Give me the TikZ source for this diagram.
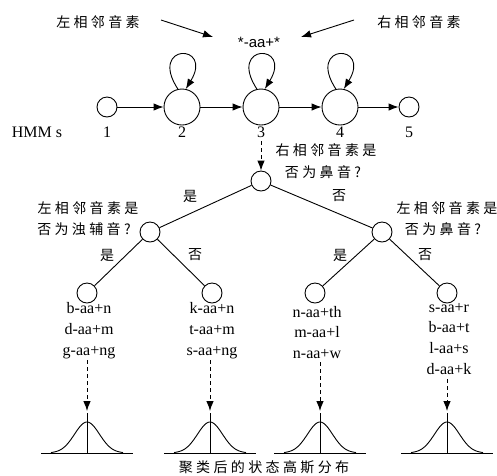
\documentclass[tikz,border=0pt]{standalone}
\usepackage{fontspec}
\setmainfont{Liberation Serif}
\newfontfamily\cjk[LetterSpace=24]{Noto Sans CJK SC}
\newfontfamily\arialfont{Liberation Sans}
\usetikzlibrary{arrows.meta}

\begin{document}
\begin{tikzpicture}[x=1pt, y=-1pt, line width=0.9pt,
  big/.style={circle, draw, minimum size=36pt, inner sep=0pt},
  small/.style={circle, draw, minimum size=20pt, inner sep=0pt},
  arr/.style={-{Latex[length=10pt, width=7.5pt]}},
  darr/.style={arr, dashed, dash pattern=on 4pt off 3pt},
  lat/.style={font=\fontsize{16}{19}\selectfont, inner sep=0pt, anchor=base},
  zh/.style={font=\cjk\fontsize{14}{17}\selectfont, inner sep=0pt},
]
\useasboundingbox (0,0) rectangle (497,475);

% context labels and the tied triphone
\node[zh] (lctx) at (98,22) {左相邻音素};
\node[zh] (rctx) at (419,22) {右相邻音素};
\node[font=\arialfont\fontsize{15}{18}\selectfont, inner sep=0pt, anchor=base] (tri) at (259,47) {*-aa+*};
\coordinate (la0) at (161,20);
\coordinate (la1) at (213,37);
\coordinate (ra0) at (354,20);
\coordinate (ra1) at (301,37);
\draw[arr] (la0) -- (la1);
\draw[arr] (ra0) -- (ra1);

% HMM state chain
\node[small] (s1) at (107,107) {};
\node[big]   (s2) at (182,107) {};
\node[big]   (s3) at (261,107) {};
\node[big]   (s4) at (340,107) {};
\node[small] (s5) at (409,107) {};
\draw[arr] (s1) -- (s2);
\draw[arr] (s2) -- (s3);
\draw[arr] (s3) -- (s4);
\draw[arr] (s4) -- (s5);
\foreach \s in {s2,s3,s4}
  \draw[arr] (\s.103) .. controls +(-30,-46) and +(28,-46) .. (\s.78);

\node[lat] (hmm) at (37,137) {HMM s};
\node[lat] (n1) at (107,137) {1};
\node[lat] (n2) at (182,137) {2};
\node[lat] (n3) at (261,137) {3};
\node[lat] (n4) at (340,137) {4};
\node[lat] (n5) at (409,137) {5};

% decision tree
\node[small] (root) at (261,181) {};
\node[small] (qa) at (150,232) {};
\node[small] (qb) at (382,232) {};
\node[small] (la) at (87,293) {};
\node[small] (lb) at (212,293) {};
\node[small] (lc) at (315,293) {};
\node[small] (ld) at (447,293) {};
\coordinate (d0) at (261,141);
\draw[darr] (d0) -- (root);
\draw (root) -- (qa);
\draw (root) -- (qb);
\draw (qa) -- (la);
\draw (qa) -- (lb);
\draw (qb) -- (lc);
\draw (qb) -- (ld);

\node[zh] (qr1) at (326,150) {右相邻音素是};
\node[zh] (qr2) at (323,172) {否为鼻音?};
\node[zh] (qa1) at (88,208) {左相邻音素是};
\node[zh] (qa2) at (84,229) {否为浊辅音?};
\node[zh] (qb1) at (447,208) {左相邻音素是};
\node[zh] (qb2) at (443,229) {否为鼻音?};

\node[zh] (y0) at (190,196) {是};
\node[zh] (n0) at (339,196) {否};
\node[zh] (ya) at (107,255) {是};
\node[zh] (na) at (195,255) {否};
\node[zh] (yb) at (340,255) {是};
\node[zh] (nb) at (425,255) {否};

% triphones in each leaf
\foreach \t [count=\i] in {b-aa+n, d-aa+m, g-aa+ng}
  \node[lat] (ta\i) at (89,313+21*\i-21) {\t};
\foreach \t [count=\i] in {k-aa+n, t-aa+m, s-aa+ng}
  \node[lat] (tb\i) at (212,313+21*\i-21) {\t};
\foreach \t [count=\i] in {n-aa+th, m-aa+l, n-aa+w}
  \node[lat] (tc\i) at (317,317+20.5*\i-20.5) {\t};
\foreach \t [count=\i] in {s-aa+r, b-aa+t, l-aa+s, d-aa+k}
  \node[lat] (td\i) at (449,312+20.7*\i-20.7) {\t};

% tied state Gaussians
\foreach \cx/\top [count=\i] in {87/360, 210/360, 320/362, 447/379} {
  \coordinate (a\i) at (\cx,\top);
  \coordinate (g\i) at (\cx,411);
  \draw[darr] (a\i) -- (g\i);
  \draw (\cx-46,453) -- (\cx+46,453);
  \draw (\cx,413) -- (\cx,453);
  \draw[domain=-36:36, samples=60, smooth]
    plot ({\cx+\x}, {453-31*exp(-(\x*\x)/(2*12.5*12.5))});
}

\node[zh] (cap) at (264,467) {聚类后的状态高斯分布};
\end{tikzpicture}
\end{document}
